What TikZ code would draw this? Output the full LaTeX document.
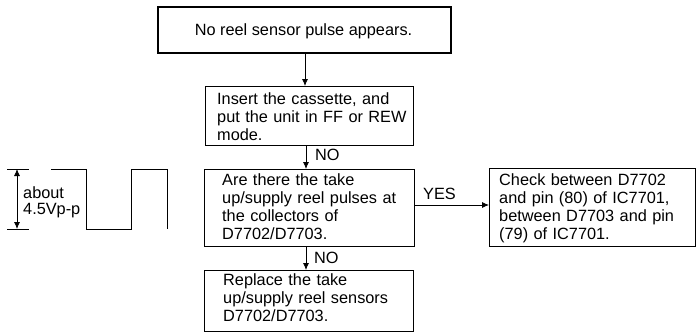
\documentclass[tikz,border=0pt]{standalone}
\usepackage{fontspec}
\setmainfont{Liberation Sans}
\usetikzlibrary{arrows.meta}
\begin{document}
\begin{tikzpicture}[x=1pt,y=-1pt,
  box/.style={draw,line width=0.8pt,anchor=north west,inner sep=0pt},
  txt/.style={anchor=base west,inner sep=0pt,align=left,font=\fontsize{16.3}{18}\selectfont},
  lbl/.style={anchor=base west,inner sep=0pt,font=\fontsize{16.3}{18}\selectfont},
  arr/.style={line width=0.8pt,-{Latex[length=7pt,width=6pt]}},
  wave/.style={line width=0.8pt}]
\useasboundingbox (0,0) rectangle (696,332);
% boxes
\node[box,line width=1.7pt,minimum width=293pt,minimum height=46pt] (top) at (157,6) {};
\node[box,minimum width=208pt,minimum height=59pt] (b2) at (205,86) {};
\node[box,minimum width=210pt,minimum height=77pt] (b3) at (204,169) {};
\node[box,minimum width=206pt,minimum height=78pt] (b4) at (489,168) {};
\node[box,minimum width=209pt,minimum height=61pt] (b5) at (204,270) {};
% texts
\node[lbl,anchor=base] (t1) at (303.5,35) {No reel sensor pulse appears.};
\node[txt,text width=205pt] (t2) at (217,104) {Insert the cassette, and\\put the unit in FF or REW\\mode.};
\node[txt,text width=200pt] (t3) at (222,185) {Are there the take\\up/supply reel pulses at\\the collectors of\\D7702/D7703.};
\node[txt,text width=195pt] (t4) at (499,185) {\makebox[191pt][s]{Check between D7702}\\\makebox[191pt][s]{and pin (80) of IC7701,}\\\makebox[191pt][s]{between D7703 and pin}\\(79) of IC7701.};
\node[txt,text width=200pt] (t5) at (223,285) {Replace the take\\up/supply reel sensors\\D7702/D7703.};
% connectors
\coordinate (xa) at (305,0);
\coordinate (xb) at (306,0);
\coordinate (yy) at (0,205);
\draw[arr] (xa |- top.south) -- (xa |- b2.north);
\draw[arr] (xb |- b2.south) -- (xb |- b3.north);
\draw[arr] (xb |- b3.south) -- (xb |- b5.north);
\draw[arr] (b3.east |- yy) -- (b4.west |- yy);
\node[lbl] (no1) at (315,160.5) {NO};
\node[lbl] (no2) at (314,263) {NO};
\node[lbl] (yes) at (423,199) {YES};
% waveform
\coordinate (tl) at (7,169);
\coordinate (tr) at (29,169);
\coordinate (bl) at (7,229);
\coordinate (br) at (29,229);
\draw[wave] (tl) -- (tr);
\draw[wave] (bl) -- (br);
\coordinate (at) at (17,169);
\coordinate (ab) at (17,229);
\draw[line width=0.8pt,{Latex[length=7pt,width=6pt]}-{Latex[length=7pt,width=6pt]}] (at) -- (ab);
\draw[wave] (51,169) -- (86,169) -- (86,229) -- (131,229) -- (131,169) -- (167,169) -- (167,229);
\node[txt,text width=60pt] (amp) at (23,198) {about\\[-2pt]4.5Vp-p};
\end{tikzpicture}
\end{document}
